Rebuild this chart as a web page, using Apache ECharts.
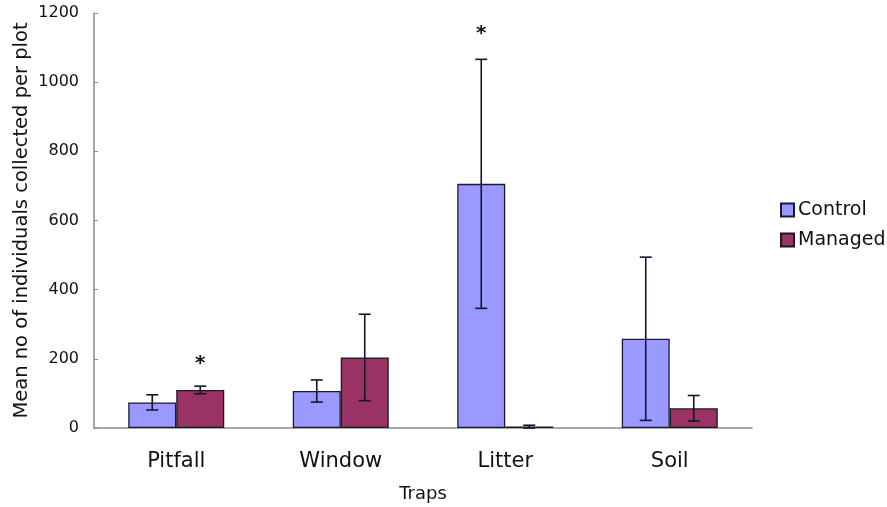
<!DOCTYPE html>
<html>
<head>
<meta charset="utf-8">
<script src="https://cdn.jsdelivr.net/npm/echarts@6/dist/echarts.min.js"></script>
<style>
  html, body { margin: 0; padding: 0; background: #fff; }
  #chart { width: 887px; height: 507px; }
</style>
</head>
<body>
<div id="chart"></div>
<script>
// Mean catch per plot by trap type, with standard-error whiskers
const categories = ['Pitfall', 'Window', 'Litter', 'Soil'];
const controlMean = [74, 107, 706, 258];
const controlErr = [22, 32, 360, 236];
const managedMean = [110, 204, 4, 57];
const managedErr = [11, 125, 4, 37];
// significant differences: [category index, series index (0 control, 1 managed), marker height]
const significance = [[0, 1, 194], [2, 0, 1147]];
const yTicks = [0, 200, 400, 600, 800, 1000, 1200];

const BAR_W = 48;
const FONT = '"DejaVu Sans", Verdana, sans-serif';
const STAR_SIZE = 20;

function errorRows(means, errs) {
  return means.map((m, i) => [i, m - errs[i], m + errs[i]]);
}

function errorBarSeries(name, means, errs, shift) {
  return {
    type: 'custom',
    name: name + ' error',
    z: 5,
    silent: true,
    data: errorRows(means, errs),
    encode: { x: 0, y: [1, 2] },
    renderItem: function (params, api) {
      const lo = api.coord([api.value(0), api.value(1)]);
      const hi = api.coord([api.value(0), api.value(2)]);
      const x = lo[0] + shift;
      const cap = 6;
      const style = { stroke: '#141432', lineWidth: 1.6 };
      return {
        type: 'group',
        children: [
          { type: 'line', shape: { x1: x, y1: lo[1], x2: x, y2: hi[1] }, style: style },
          { type: 'line', shape: { x1: x - cap, y1: hi[1], x2: x + cap, y2: hi[1] }, style: style },
          { type: 'line', shape: { x1: x - cap, y1: lo[1], x2: x + cap, y2: lo[1] }, style: style }
        ]
      };
    }
  };
}

const chart = echarts.init(document.getElementById('chart'), null, { renderer: 'canvas' });

chart.setOption({
  backgroundColor: '#ffffff',
  animation: false,
  grid: { left: 94, right: 135, top: 13, bottom: 79, containLabel: false, outerBoundsMode: 'none' },
  legend: {
    orient: 'vertical',
    left: 775,
    top: 194,
    itemWidth: 13,
    itemHeight: 13,
    itemGap: 8,
    icon: 'rect',
    data: ['Control', 'Managed'],
    textStyle: { fontFamily: FONT, fontSize: 19, lineHeight: 22, color: '#111', padding: [0, 0, 0, -1] }
  },
  xAxis: {
    type: 'category',
    data: categories,
    name: 'Traps',
    nameLocation: 'middle',
    nameGap: 57,
    nameMoveOverlap: false,
    nameTextStyle: { fontFamily: FONT, fontSize: 18, color: '#111' },
    axisLine: { lineStyle: { color: '#8a8a8a', width: 1.5 } },
    axisTick: { inside: true, length: 5, lineStyle: { color: '#8a8a8a' } },
    axisLabel: { fontFamily: FONT, fontSize: 21, color: '#111', margin: 23 }
  },
  yAxis: {
    type: 'value',
    min: 0,
    max: 1200,
    interval: 200,
    name: 'Mean no of individuals collected per plot',
    nameLocation: 'middle',
    nameGap: 62,
    nameMoveOverlap: false,
    nameTextStyle: { fontFamily: FONT, fontSize: 19.5, color: '#111' },
    splitLine: { show: false },
    axisLine: { show: true, lineStyle: { color: '#8a8a8a', width: 1.5 } },
    axisTick: { show: true, inside: true, length: 4, lineStyle: { color: '#8a8a8a' } },
    axisLabel: {
      fontFamily: FONT, fontSize: 16, color: '#111', margin: 15, padding: [5, 0, 0, 0],
      formatter: function (v) { return yTicks.indexOf(v) >= 0 ? String(v) : ''; }
    }
  },
  series: [
    {
      name: 'Control',
      type: 'bar',
      data: controlMean,
      barWidth: BAR_W,
      barGap: '0%',
      itemStyle: { color: '#9999ff', borderColor: '#1a1a33', borderWidth: 1.3 }
    },
    {
      name: 'Managed',
      type: 'bar',
      data: managedMean,
      barWidth: BAR_W,
      barGap: '0%',
      itemStyle: { color: '#993366', borderColor: '#1a1a1a', borderWidth: 1.3 }
    },
    errorBarSeries('Control', controlMean, controlErr, -BAR_W / 2),
    errorBarSeries('Managed', managedMean, managedErr, BAR_W / 2),
    {
      type: 'custom',
      name: 'significance',
      z: 6,
      silent: true,
      data: significance,
      encode: { x: 0, y: 2 },
      renderItem: function (params, api) {
        const p = api.coord([api.value(0), api.value(2)]);
        const shift = api.value(1) === 0 ? -BAR_W / 2 : BAR_W / 2;
        // the asterisk glyph sits high in its em box, so drop the anchor a little
        return {
          type: 'text',
          x: p[0] + shift,
          y: p[1] + STAR_SIZE * 0.14,
          style: {
            text: '*',
            fontFamily: FONT,
            fontSize: STAR_SIZE,
            fontWeight: 'bold',
            fill: '#111',
            align: 'center',
            verticalAlign: 'middle'
          }
        };
      }
    }
  ]
});
</script>
</body>
</html>
